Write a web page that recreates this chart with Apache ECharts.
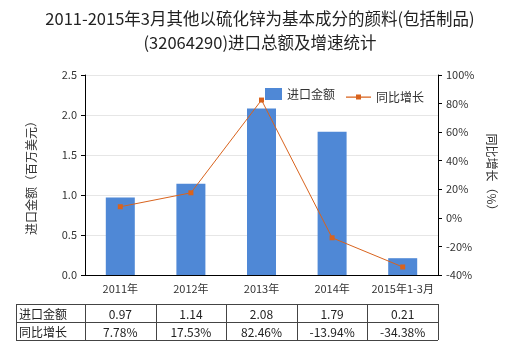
<!DOCTYPE html>
<html><head><meta charset="utf-8">
<script src="https://cdn.jsdelivr.net/npm/echarts@6/dist/echarts.min.js"></script>
<style>html,body{margin:0;padding:0;background:#fff}#c{width:520px;height:350px}</style>
</head><body><div id="c"></div>
<script>
var categories = ['2011年','2012年','2013年','2014年','2015年1-3月'];
var importValues = [0.97, 1.14, 2.08, 1.79, 0.21];
var growthValues = [7.78, 17.53, 82.46, -13.94, -34.38];
var importLabels = ['0.97','1.14','2.08','1.79','0.21'];
var growthLabels = ['7.78%','17.53%','82.46%','-13.94%','-34.38%'];
var rowNames = ['进口金额','同比增长'];

var FONT = '"Noto Sans CJK SC", "Microsoft YaHei", sans-serif';
var chart = echarts.init(document.getElementById('c'));
var gridL = 85, gridR = 82, gridT = 75, gridB = 75;

var option = {
  animation: false,
  backgroundColor: '#fff',
  title: {
    text: '2011-2015年3月其他以硫化锌为基本成分的颜料(包括制品)\n(32064290)进口总额及增速统计',
    left: 'center', top: 2,
    textStyle: {fontSize: 16.5, fontWeight: 'normal', color: '#222', fontFamily: FONT, lineHeight: 24}
  },
  legend: [{
    top: 83, left: 260, itemWidth: 17, itemHeight: 12,
    textStyle: {fontSize: 12, color: '#333', fontFamily: FONT},
    data: [{name: '进口金额', icon: 'rect'}]
  }, {
    top: 86, left: 341, itemWidth: 25, itemHeight: 5,
    textStyle: {fontSize: 12, color: '#333', fontFamily: FONT},
    data: [{name: '同比增长', icon: 'path://M0,1.9h25v1.4h-25z M10,0h5v5h-5z'}]
  }],
  grid: {left: gridL, right: gridR, top: gridT, bottom: gridB},
  xAxis: {
    type: 'category', data: categories,
    axisLine: {lineStyle: {color: '#000'}},
    axisTick: {show: false},
    axisLabel: {interval: 0, fontSize: 11, color: '#333', fontFamily: FONT, margin: 8}
  },
  yAxis: [{
    type: 'value', min: 0, max: 2.5, interval: 0.5,
    name: '进口金额（百万美元）', nameLocation: 'middle', nameGap: 48, nameRotate: 90,
    nameTextStyle: {fontSize: 12, color: '#333', fontFamily: FONT},
    axisLine: {show: true, lineStyle: {color: '#000'}},
    axisTick: {show: true, length: 4, lineStyle: {color: '#000'}},
    axisLabel: {fontSize: 11, color: '#333', fontFamily: FONT, formatter: function(v){return v.toFixed(1);}},
    splitLine: {lineStyle: {color: '#e6e6e6'}}
  }, {
    type: 'value', min: -40, max: 100, interval: 20,
    name: '同比增长（%）', nameLocation: 'middle', nameGap: 45, nameRotate: -90,
    nameTextStyle: {fontSize: 12, color: '#333', fontFamily: FONT},
    axisLine: {show: true, lineStyle: {color: '#000'}},
    axisTick: {show: true, length: 4, lineStyle: {color: '#000'}},
    axisLabel: {fontSize: 11, color: '#333', fontFamily: FONT, formatter: '{value}%'},
    splitLine: {show: false}
  }],
  series: [{
    name: '进口金额', type: 'bar', data: importValues, barWidth: 29,
    itemStyle: {color: '#4f88d6'}
  }, {
    name: '同比增长', type: 'line', yAxisIndex: 1, data: growthValues,
    symbol: 'rect', symbolSize: 5,
    lineStyle: {color: '#d9631d', width: 1},
    itemStyle: {color: '#d9631d'}
  }]
};
chart.setOption(option);

function buildTable() {
  var x0 = 16, top = 304, rowH = 18;
  var gridRight = 520 - gridR;
  var colW = (gridRight - gridL) / categories.length;
  var els = [];
  var lineStyle = {stroke: '#444', lineWidth: 1};
  var totalH = rowH * rowNames.length;
  for (var r = 0; r <= rowNames.length; r++) {
    var y = top + r * rowH + 0.5;
    els.push({type: 'line', shape: {x1: x0, y1: y, x2: gridRight, y2: y}, style: lineStyle, silent: true});
  }
  var xs = [x0];
  for (var c = 0; c <= categories.length; c++) xs.push(gridL + c * colW);
  xs.forEach(function(x){
    x = Math.round(x) + 0.5;
    els.push({type: 'line', shape: {x1: x, y1: top, x2: x, y2: top + totalH}, style: lineStyle, silent: true});
  });
  var rows = [importLabels, growthLabels];
  rows.forEach(function(vals, r) {
    var cy = top + r * rowH + rowH / 2 + 1;
    els.push({type: 'text', x: x0 + 3, y: cy, style: {text: rowNames[r], fill: '#222', font: '12px ' + FONT, textVerticalAlign: 'middle', textAlign: 'left'}, silent: true});
    vals.forEach(function(v, c) {
      els.push({type: 'text', x: gridL + c * colW + colW / 2, y: cy, style: {text: v, fill: '#222', font: '12px ' + FONT, textVerticalAlign: 'middle', textAlign: 'center'}, silent: true});
    });
  });
  chart.setOption({graphic: els});
}
buildTable();
</script>
</body></html>
